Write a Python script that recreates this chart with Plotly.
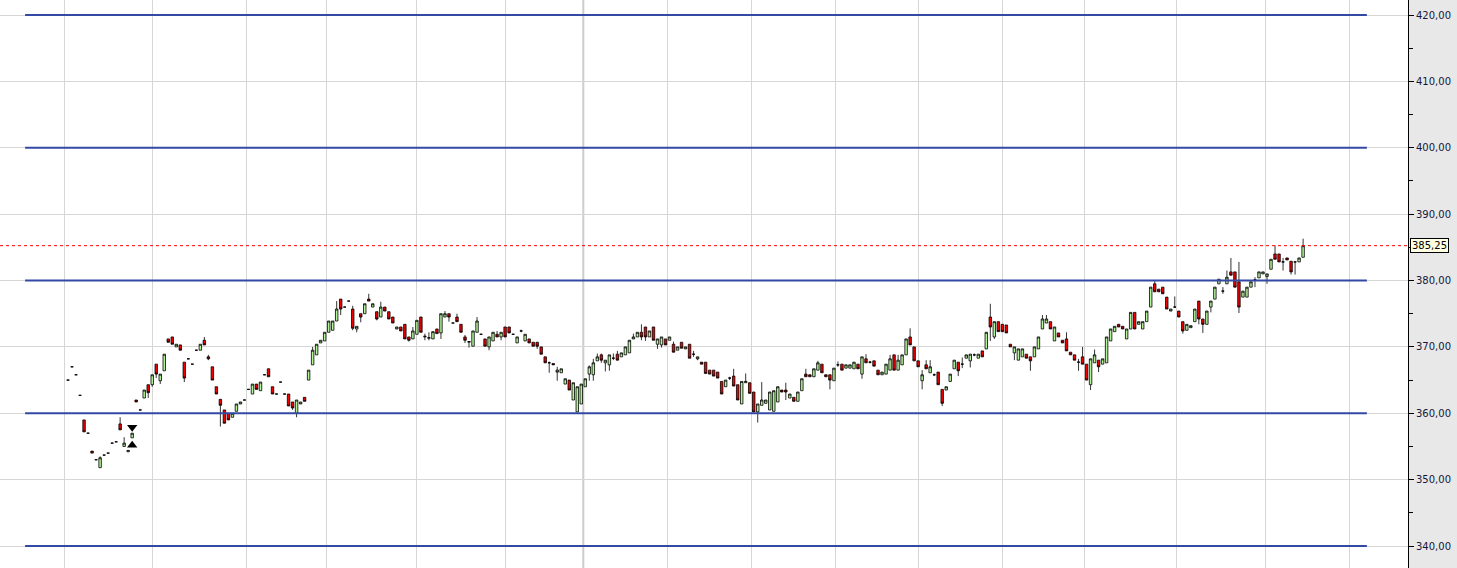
import plotly.graph_objects as go

# ---- data ----
opens = [365.0,367.0,365.8,362.7,359.0,357.0,354.3,353.0,351.8,353.7,354.0,355.5,355.7,358.4,355.0,354.2,356.3,362.0,360.5,362.3,
364.3,364.3,367.4,364.9,366.4,371.2,371.5,370.0,370.3,367.7,368.2,367.4,369.5,369.5,371.0,368.5,367.0,364.0,362.1,360.5,
360.0,359.4,360.3,361.4,362.0,363.6,362.9,364.4,363.4,365.8,366.7,364.0,362.9,364.7,362.9,362.9,361.7,360.0,361.4,362.4,
365.0,367.3,368.8,370.6,370.9,372.2,372.5,373.9,377.2,376.0,376.9,375.7,372.7,375.0,375.0,377.2,376.0,375.3,374.5,376.0,
375.3,374.5,372.7,373.0,373.4,371.5,371.2,371.9,374.5,371.5,371.3,371.2,372.7,372.1,374.5,375.0,373.6,374.5,373.4,371.5,
370.7,370.1,372.2,371.9,371.2,370.0,370.9,371.9,371.5,373.0,373.0,371.9,370.6,372.4,370.9,371.2,370.7,370.7,370.0,368.5,
367.6,367.5,366.2,366.1,364.4,365.0,362.0,360.2,361.4,364.0,365.9,365.8,367.9,368.8,367.6,367.3,368.3,368.9,368.5,368.8,
369.1,371.2,371.5,372.2,373.0,371.5,373.0,370.4,370.3,371.2,371.0,370.4,369.5,370.7,369.7,370.4,368.9,368.2,367.7,367.7,
366.5,366.5,366.2,364.8,364.0,365.3,365.6,364.3,361.4,364.6,364.6,363.2,360.2,361.2,361.5,360.5,360.3,361.7,363.5,363.5,
362.3,362.4,361.8,363.4,365.9,365.8,365.5,366.5,367.4,365.8,365.8,364.9,367.3,367.4,366.8,366.8,366.7,367.4,365.9,368.2,
367.7,367.9,366.5,365.8,365.9,366.5,368.8,366.5,367.3,368.8,371.5,370.0,367.9,364.9,367.3,366.1,365.8,366.2,363.6,363.5,
364.8,366.7,367.7,367.4,368.3,367.9,368.8,368.3,369.4,369.7,374.5,371.5,373.8,373.4,373.3,370.4,369.1,368.0,368.5,368.9,
368.5,368.5,369.7,372.7,373.6,373.8,370.9,372.1,371.0,371.2,369.2,368.8,367.7,368.5,367.4,364.3,367.6,368.0,367.4,367.6,
370.9,372.3,373.4,373.1,371.2,372.7,375.2,373.4,372.7,373.8,376.0,379.5,378.7,379.0,377.5,375.4,376.0,375.4,373.8,372.5,
372.9,373.8,376.9,374.2,373.4,376.0,377.2,379.5,378.4,379.5,381.3,381.3,379.8,377.5,377.5,379.0,380.1,380.4,381.0,380.6,
381.7,384.0,384.0,382.8,383.4,382.9,382.8,382.8,383.5]

highs = [365.0,367.0,365.8,362.7,359.0,357.0,354.3,353.0,353.5,353.7,354.0,355.5,355.7,359.4,356.4,354.4,357.0,362.0,360.5,363.5,
364.3,365.8,367.4,365.9,368.9,371.2,371.5,370.4,370.3,367.7,368.2,367.4,369.5,370.4,371.5,368.8,367.0,364.0,362.1,360.5,
360.0,360.0,361.4,361.7,362.0,363.6,364.4,364.4,364.7,365.8,366.7,364.0,362.9,364.7,362.9,362.9,361.7,362.0,361.7,362.4,
366.5,370.0,370.4,371.0,372.2,373.9,373.9,376.9,377.2,376.0,376.9,376.2,373.1,375.0,376.5,378.0,376.5,375.3,376.8,376.0,
375.3,374.5,373.0,373.0,373.4,371.5,373.0,374.0,374.5,372.0,372.2,372.3,372.7,375.0,375.4,375.0,373.6,375.0,373.4,371.8,
370.9,372.4,374.5,371.9,371.2,371.5,372.2,372.4,372.2,373.0,373.0,371.9,371.5,372.6,371.9,371.2,370.7,370.7,370.0,368.5,
367.8,367.5,367.0,366.7,365.2,365.0,364.6,364.0,364.4,365.2,367.2,368.2,369.0,369.0,368.0,368.8,369.0,369.4,369.1,370.0,
371.0,372.0,372.2,373.4,373.0,372.4,373.0,371.2,371.5,371.2,371.5,370.8,370.0,370.7,370.0,370.4,369.4,368.5,367.7,367.7,
366.5,366.5,366.2,364.8,365.0,365.5,366.7,364.3,364.8,366.0,364.6,363.2,361.4,364.7,362.0,363.2,363.4,364.0,363.5,364.6,
362.9,362.4,363.2,365.2,366.7,365.8,366.7,367.9,367.4,365.8,365.8,366.8,367.8,367.4,367.3,367.3,367.7,367.4,368.5,368.9,
367.9,367.9,366.5,366.2,367.4,368.8,368.8,368.8,368.8,371.2,372.8,370.0,367.9,366.5,368.0,368.0,366.0,366.2,363.6,364.0,
365.9,368.0,367.7,368.4,368.8,368.9,369.0,368.9,369.4,372.2,376.5,373.8,373.8,373.4,373.3,370.4,370.0,369.7,369.7,368.9,
368.5,370.0,371.5,374.8,374.8,373.8,373.0,372.1,371.0,372.2,369.2,368.8,368.2,370.0,367.4,368.2,369.6,368.0,368.2,371.5,
372.7,373.1,373.4,373.1,372.7,375.2,375.2,373.8,373.8,375.4,379.0,379.9,378.7,379.0,377.5,375.7,377.6,375.4,373.8,373.4,
373.2,375.7,376.9,374.2,375.4,376.9,379.0,380.2,379.0,381.5,383.4,381.3,382.8,378.4,379.0,379.8,380.5,381.3,381.3,381.0,
383.2,385.3,384.0,383.4,383.4,382.9,382.8,383.4,386.3]

lows = [365.0,367.0,365.8,362.7,357.2,357.0,354.0,353.0,351.8,353.7,354.0,355.5,355.7,357.5,355.0,354.2,356.3,361.7,360.5,362.3,
362.3,364.0,365.3,364.4,366.4,370.7,370.4,370.0,369.5,364.7,368.2,367.4,369.5,369.5,370.3,368.0,365.0,362.9,358.0,358.5,
359.0,359.4,360.3,361.4,362.0,363.6,362.9,363.6,363.4,365.8,365.5,362.9,362.9,364.7,362.9,361.1,360.5,359.4,361.4,361.8,
365.0,367.3,368.8,370.6,370.9,372.2,372.5,373.9,374.8,376.0,376.9,372.5,372.2,373.7,375.0,376.9,376.0,374.0,374.5,375.4,
374.2,373.6,372.7,372.4,371.2,370.8,371.2,371.9,372.2,371.0,371.0,371.2,372.0,371.2,374.5,373.8,373.6,373.8,372.2,370.6,
369.9,370.1,372.2,371.9,370.1,369.5,370.9,371.5,371.0,371.5,372.1,371.9,370.6,372.2,370.9,370.6,370.1,369.7,368.9,367.6,
366.1,367.3,364.9,366.1,364.4,363.5,362.0,360.2,361.4,364.0,364.9,364.9,367.9,367.6,366.3,366.4,368.0,368.0,368.5,368.8,
369.1,371.2,371.5,371.0,370.9,371.5,371.0,369.7,369.9,370.3,371.0,369.2,369.5,369.8,369.7,368.3,368.5,368.0,367.4,366.0,
365.9,365.6,365.3,362.9,364.0,365.0,364.1,362.0,361.4,364.6,363.0,360.2,358.6,361.2,361.5,360.5,360.3,361.7,363.2,362.0,
362.3,361.8,361.8,363.4,365.5,365.5,365.5,366.5,366.1,365.5,363.6,364.9,367.0,366.5,366.8,366.8,366.7,366.7,365.2,367.6,
367.5,367.1,365.8,365.8,365.9,366.5,366.5,366.5,367.3,368.8,370.3,367.9,367.0,363.6,366.7,366.1,365.6,364.3,361.1,363.5,
364.8,366.7,365.6,366.8,368.3,366.9,368.6,368.3,368.5,369.7,370.9,371.2,372.3,372.3,372.1,370.0,368.0,368.0,368.5,368.3,
366.4,368.5,369.7,372.7,373.6,372.7,370.9,371.5,370.6,369.4,368.8,368.0,366.4,367.4,365.0,363.5,367.6,366.2,367.4,367.6,
370.9,372.3,373.0,372.7,371.2,372.7,372.7,373.4,372.7,373.8,376.0,378.3,378.3,378.0,375.7,375.4,375.9,374.5,372.0,372.5,
372.9,373.8,373.4,372.1,373.4,375.2,377.2,379.5,378.0,379.5,380.8,379.0,375.1,377.5,377.5,379.0,379.0,380.4,381.0,379.5,
381.7,383.2,382.8,381.5,383.1,380.9,380.9,382.8,383.5]

closes = [365.0,367.0,365.8,362.7,357.2,357.0,354.0,353.0,353.3,353.7,354.0,355.5,355.7,357.5,355.5,354.4,357.0,361.7,360.5,363.5,
363.1,365.8,365.9,365.9,368.9,370.7,370.4,370.4,369.5,365.3,368.2,367.4,369.5,370.4,370.3,368.2,365.0,362.9,361.2,358.5,
359.0,360.0,361.4,361.7,362.0,363.6,364.4,363.6,364.7,365.8,365.5,362.9,362.9,364.7,362.9,361.1,360.8,362.0,361.7,361.8,
366.5,369.5,370.4,371.0,372.2,373.9,373.9,375.7,375.7,376.0,376.9,372.8,373.1,374.5,376.5,376.9,376.5,374.2,376.0,375.4,
374.2,373.6,373.0,372.4,371.2,371.0,372.4,374.0,372.2,371.6,371.4,372.3,372.0,375.0,375.0,374.5,373.6,373.8,372.2,371.0,
370.8,372.4,373.9,371.9,370.1,371.5,372.2,371.5,372.2,371.5,372.1,371.9,371.5,372.4,371.9,370.6,370.1,370.1,368.9,367.6,
367.6,367.3,366.5,366.7,365.2,363.5,364.6,364.0,364.4,365.2,367.0,367.6,368.5,368.0,368.0,368.8,368.3,368.0,369.1,370.0,
371.0,371.5,372.2,371.5,371.5,372.4,371.0,371.2,371.5,370.3,371.5,369.2,370.0,369.8,370.0,368.3,368.9,368.5,367.4,366.0,
365.9,365.6,365.3,362.9,365.0,365.3,364.1,362.0,364.8,364.8,363.0,360.2,361.4,362.0,362.0,363.2,363.4,364.0,363.2,363.2,
362.9,361.8,363.2,365.2,365.5,365.5,366.7,367.6,366.1,365.5,365.0,366.8,367.3,366.5,367.3,367.3,367.7,366.7,368.5,367.6,
367.7,367.1,365.8,366.2,367.4,368.2,366.5,368.0,368.8,371.2,370.3,367.9,367.0,365.8,366.7,367.0,365.8,364.3,361.5,364.0,
365.9,368.0,366.4,367.4,368.8,368.9,368.8,368.9,368.5,372.2,373.0,373.8,372.3,372.3,372.1,370.0,370.0,369.7,369.7,368.3,
367.9,370.0,371.5,374.2,374.2,372.7,373.0,371.5,370.6,369.4,368.8,368.0,367.7,367.4,365.0,368.2,368.8,367.0,368.2,371.5,
372.7,373.1,373.0,372.7,372.7,375.2,372.7,373.8,373.8,375.4,379.0,378.3,378.3,378.0,375.7,375.7,376.0,374.5,372.4,373.4,
373.2,375.7,374.2,373.4,375.4,376.9,379.0,380.2,378.4,380.5,380.8,379.0,376.0,378.4,379.0,379.8,380.1,381.3,381.3,381.0,
383.2,383.2,382.8,382.8,383.1,381.3,382.8,383.4,385.25]

last_price = 385.25
last_label = "385,25"
level_lines = [340, 360, 380, 400, 420]
month_bounds = [-1, 21, 44.5, 64.5, 87, 109, 149.5, 170.5, 191.5, 212, 233, 253.5, 276.5, 298.5, 319.5]
year_bound = 128.5
signal_down_x, signal_down_y = [16], [357.9]
signal_up_x, signal_up_y = [16], [355.2]

n = len(closes)
xs = list(range(n))

fig = go.Figure()
fig.add_trace(go.Candlestick(
    x=xs, open=opens, high=highs, low=lows, close=closes,
    increasing=dict(line=dict(color="black", width=0.8), fillcolor="#b4f59a"),
    decreasing=dict(line=dict(color="black", width=0.8), fillcolor="#f00000"),
    whiskerwidth=0, hoverinfo="skip", showlegend=False,
))
fig.add_trace(go.Scatter(x=signal_down_x, y=signal_down_y, mode="markers",
                         marker=dict(symbol="triangle-down", size=9, color="black"),
                         showlegend=False, hoverinfo="skip"))
fig.add_trace(go.Scatter(x=signal_up_x, y=signal_up_y, mode="markers",
                         marker=dict(symbol="triangle-up", size=9, color="black"),
                         showlegend=False, hoverinfo="skip"))

shapes = []
# slightly heavier year-boundary gridline
shapes.append(dict(type="line", xref="x", yref="paper", x0=year_bound, x1=year_bound, y0=0, y1=1,
                   line=dict(color="#cdcdcd", width=2), layer="below"))
for lv in level_lines:
    shapes.append(dict(type="line", xref="x", yref="y", x0=-10.7, x1=323.9, y0=lv, y1=lv,
                       line=dict(color="#3349a3", width=2), layer="above"))
shapes.append(dict(type="line", xref="paper", yref="y", x0=0, x1=1, y0=last_price, y1=last_price,
                   line=dict(color="#ff0000", width=1, dash="dot"), layer="above"))

fig.update_layout(
    width=1457, height=568,
    margin=dict(l=0, r=49, t=0, b=0),
    paper_bgcolor="#e8e8e8", plot_bgcolor="white",
    separators=",.",
    showlegend=False,
    boxgap=0.12,
    shapes=shapes,
    xaxis=dict(range=[-16.96, 334.16], tickvals=month_bounds, showticklabels=False,
               showgrid=True, gridcolor="#d6d6d6", gridwidth=1, zeroline=False,
               rangeslider=dict(visible=False), fixedrange=True, ticks=""),
    yaxis=dict(side="right", range=[336.69, 422.26], dtick=10, tick0=0, tickformat=".2f",
               showgrid=True, gridcolor="#d6d6d6", gridwidth=1, zeroline=False,
               showline=True, linecolor="black", linewidth=1,
               ticks="outside", ticklen=5, tickcolor="black",
               minor=dict(dtick=5, ticks="outside", ticklen=4, tickcolor="black", showgrid=False),
               tickfont=dict(family="DejaVu Sans", size=10, color="#16163a")),
    annotations=[dict(xref="paper", yref="y", x=1, y=last_price, text=last_label,
                      xanchor="left", yanchor="middle", xshift=2, showarrow=False,
                      bgcolor="#ffffe1", bordercolor="black", borderwidth=1, borderpad=1,
                      font=dict(family="DejaVu Sans", size=10, color="black"))],
)

fig.write_html("out.html", config={"displayModeBar": False},
               post_script="document.body.style.margin='0px';document.body.style.overflow='hidden';")
